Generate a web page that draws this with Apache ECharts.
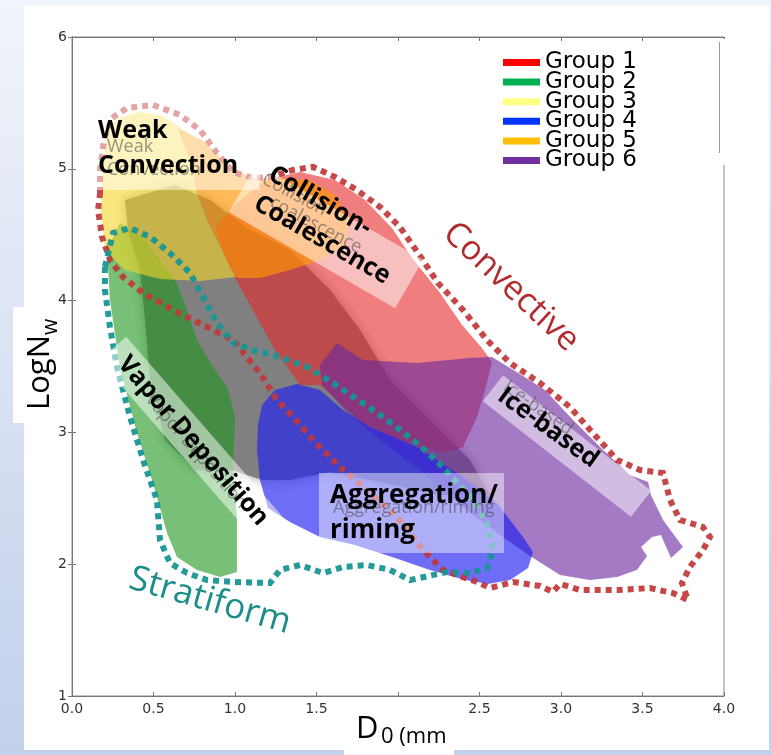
<!DOCTYPE html>
<html><head><meta charset="utf-8">
<script src="https://cdn.jsdelivr.net/npm/echarts@6/dist/echarts.min.js"></script>
<style>html,body{margin:0;padding:0;width:771px;height:755px;overflow:hidden;background:#fff}#c{width:771px;height:755px}</style>
</head><body><div id="c"></div>
<script>
// ---------- data (D0 in mm, LogNw) ----------
const xTickLabels = ['0.0','0.5','1.0','1.5','','2.5','3.0','3.5','4.0'];
const yTickLabels = ['1','2','3','4','5','6'];
const groupNames = ['Group 1','Group 2','Group 3','Group 4','Group 5','Group 6'];
const legendColors = ['#ff0000','#00b050','#ffff80','#0033ff','#ffc000','#7030a0'];

const densityCore = [[0.325,4.763],[0.632,4.877],[0.847,4.763],[1.092,4.536],[1.337,4.384],[1.583,4.080],[1.767,3.777],[1.951,3.398],[2.196,3.094],[2.442,2.791],[2.564,2.525],[2.258,2.525],[1.890,2.624],[1.583,2.700],[1.337,2.639],[1.166,2.639],[0.982,2.715],[0.755,2.715],[0.571,2.942],[0.479,3.398],[0.448,3.853],[0.417,4.232],[0.344,4.536]];
const group1 = [[0.877,4.551],[1.000,4.725],[1.184,4.915],[1.399,4.976],[1.613,4.915],[1.798,4.763],[1.963,4.551],[2.086,4.323],[2.258,4.058],[2.393,3.815],[2.515,3.640],[2.577,3.534],[2.534,3.322],[2.485,3.117],[2.399,2.889],[2.276,2.844],[2.012,2.942],[1.785,3.071],[1.521,3.360],[1.399,3.360],[1.245,3.625],[1.092,3.967],[0.957,4.270]];
const group2 = [[0.294,4.589],[0.215,4.384],[0.233,4.005],[0.294,3.496],[0.399,2.995],[0.497,2.616],[0.583,2.237],[0.644,2.055],[0.767,1.956],[0.908,1.903],[1.012,1.941],[1.012,2.358],[0.988,2.737],[1.000,3.117],[0.951,3.345],[0.865,3.496],[0.767,3.701],[0.706,3.929],[0.644,4.134],[0.540,4.308],[0.436,4.483]];
const group3 = [[0.190,5.029],[0.221,5.310],[0.294,5.393],[0.417,5.431],[0.540,5.408],[0.663,5.317],[0.724,5.067],[0.767,4.816],[0.834,4.596],[0.920,4.384],[1.006,4.179],[0.785,4.149],[0.540,4.164],[0.325,4.232],[0.202,4.384],[0.178,4.687]];
const group4 = [[1.166,3.208],[1.245,3.322],[1.380,3.367],[1.521,3.322],[1.663,3.170],[1.828,3.041],[2.117,2.889],[2.399,2.662],[2.607,2.464],[2.767,2.206],[2.828,2.093],[2.798,1.971],[2.687,1.880],[2.552,1.850],[2.411,1.880],[2.196,1.956],[1.982,2.047],[1.736,2.146],[1.521,2.206],[1.337,2.320],[1.202,2.426],[1.153,2.639],[1.135,2.866],[1.141,3.056]];
const group5 = [[0.650,5.310],[0.816,5.203],[0.939,5.052],[1.092,4.930],[1.276,4.930],[1.460,4.915],[1.613,4.801],[1.706,4.612],[1.675,4.422],[1.521,4.308],[1.337,4.232],[1.153,4.171],[1.012,4.171],[0.920,4.384],[0.834,4.596],[0.767,4.816],[0.724,5.067]];
const group6 = [[1.626,3.678],[1.785,3.549],[2.117,3.527],[2.442,3.564],[2.577,3.572],[2.748,3.443],[2.902,3.322],[3.074,3.094],[3.258,2.866],[3.423,2.677],[3.534,2.624],[3.552,2.525],[3.626,2.335],[3.748,2.131],[3.675,2.047],[3.613,2.222],[3.558,2.206],[3.491,2.131],[3.528,2.062],[3.466,1.956],[3.344,1.903],[3.178,1.880],[2.994,1.918],[2.810,2.062],[2.626,2.222],[2.380,2.449],[2.135,2.715],[1.890,2.942],[1.675,3.170],[1.534,3.360],[1.521,3.511]];
const convectiveOutline = [[0.172,4.816],[0.172,4.991],[0.196,5.218],[0.245,5.385],[0.337,5.461],[0.497,5.484],[0.663,5.408],[0.785,5.294],[0.890,5.120],[0.988,4.976],[1.110,4.930],[1.215,4.938],[1.356,4.991],[1.479,5.014],[1.613,4.938],[1.748,4.839],[1.890,4.710],[2.012,4.558],[2.123,4.361],[2.245,4.134],[2.399,3.929],[2.546,3.701],[2.687,3.527],[2.871,3.375],[3.055,3.193],[3.196,2.995],[3.344,2.791],[3.485,2.715],[3.626,2.692],[3.669,2.487],[3.730,2.335],[3.871,2.282],[3.914,2.206],[3.871,2.108],[3.791,1.979],[3.742,1.857],[3.779,1.728],[3.687,1.781],[3.546,1.819],[3.344,1.804],[3.117,1.804],[2.994,1.850],[2.951,1.789],[2.871,1.835],[2.706,1.865],[2.564,1.819],[2.485,1.865],[2.276,1.956],[2.153,2.108],[1.994,2.358],[1.828,2.540],[1.644,2.737],[1.479,2.942],[1.356,3.117],[1.258,3.246],[1.153,3.451],[0.988,3.701],[0.828,3.800],[0.620,3.929],[0.436,4.058],[0.313,4.179],[0.233,4.308],[0.184,4.483],[0.160,4.687]];
const stratiformOutline = [[0.202,4.255],[0.252,4.513],[0.356,4.551],[0.479,4.483],[0.601,4.361],[0.724,4.209],[0.804,4.027],[0.890,3.830],[0.988,3.678],[1.110,3.625],[1.276,3.572],[1.442,3.496],[1.601,3.375],[1.755,3.246],[1.908,3.117],[2.117,2.920],[2.276,2.737],[2.442,2.510],[2.546,2.313],[2.583,2.108],[2.546,1.971],[2.442,1.933],[2.301,1.941],[2.074,1.880],[1.951,1.956],[1.810,1.994],[1.663,1.979],[1.540,1.933],[1.399,1.994],[1.276,1.956],[1.215,1.857],[0.988,1.865],[0.828,1.880],[0.706,1.933],[0.601,2.009],[0.540,2.184],[0.521,2.487],[0.436,2.791],[0.356,3.117],[0.276,3.496],[0.233,3.800],[0.202,4.080]];

// ---------- chart ----------
const chart = echarts.init(document.getElementById('c'), null, {width:771, height:755});
function area(name, pts, fill, color, extra) {
  return {
    type:'custom', name:name, coordinateSystem:'cartesian2d', data:[[0,1]], silent:true,
    itemStyle:{color:color},
    renderItem:function(params, api){
      return {type:'polygon', shape:{points:pts.map(function(p){return api.coord(p);})},
              style:Object.assign({fill:fill}, extra||{})};
    }
  };
}
function outline(name, pts, stroke) {
  return {
    type:'custom', name:name, coordinateSystem:'cartesian2d', data:[[0,1]], silent:true, z:5,
    renderItem:function(params, api){
      return {type:'polygon', shape:{points:pts.map(function(p){return api.coord(p);})},
              style:{fill:null, stroke:stroke, lineWidth:6, lineDash:[6,5]}};
    }
  };
}
const LBL = 'Open Sans';
function rtext(t, x, y, deg, size, color, weight, align) {
  return {type:'text', x:x, y:y, rotation:-deg*Math.PI/180, z:110,
    style:{text:t, x:0, y:0, align:align||'center', verticalAlign:'middle', fontFamily:LBL, fontSize:size, fontWeight:weight||'normal', fill:color}};
}
function rbox(cx, cy, w, h, deg, fill) {
  return {type:'rect', x:cx, y:cy, rotation:-deg*Math.PI/180, z:100,
    shape:{x:-w/2, y:-h/2, width:w, height:h}, style:{fill:fill||'rgba(255,255,255,0.5)'}};
}
const ghost = 'rgba(70,70,70,0.55)';

const option = {
  animation:false,
  grid:{left:72, top:37, width:652, height:659, show:true, borderColor:'#888', borderWidth:1, backgroundColor:'transparent'},
  xAxis:[{type:'value', min:0, max:4, interval:0.5, position:'bottom',
    axisLine:{show:true, lineStyle:{color:'#777'}}, axisTick:{inside:true, length:4, lineStyle:{color:'#777'}},
    splitLine:{show:false},
    axisLabel:{margin:6, fontFamily:'DejaVu Sans', fontSize:14, color:'#333',
      formatter:function(v){return xTickLabels[Math.round(v/0.5)];}}},
    {type:'value', min:0, max:4, interval:0.5, position:'top',
    axisLine:{show:true, lineStyle:{color:'#777'}}, axisTick:{inside:true, length:4, lineStyle:{color:'#777'}},
    splitLine:{show:false}, axisLabel:{show:false}}],
  yAxis:[{type:'value', min:1, max:6, interval:1, position:'left',
    axisLine:{show:true, lineStyle:{color:'#777'}}, axisTick:{inside:true, length:4, lineStyle:{color:'#777'}},
    splitLine:{show:false},
    axisLabel:{margin:5, fontFamily:'DejaVu Sans', fontSize:14, color:'#333',
      formatter:function(v){return yTickLabels[Math.round(v-1)];}}},
    {type:'value', min:1, max:6, interval:1, position:'right',
    axisLine:{show:true, lineStyle:{color:'#777'}}, axisTick:{inside:true, length:4, lineStyle:{color:'#777'}},
    splitLine:{show:false}, axisLabel:{show:false}}],
  legend:{data:groupNames, orient:'vertical', left:503, top:51, itemWidth:37, itemHeight:7, itemGap:-3.4,
    padding:0, icon:'rect', selectedMode:false, z:120,
    textStyle:{fontFamily:'DejaVu Sans', fontSize:23, color:'#000'}},
  series:[
    area('density', densityCore, 'rgba(128,128,128,1)', '#808080', {shadowBlur:12, shadowColor:'rgba(128,128,128,0.7)'}),
    area(groupNames[0], group1, 'rgba(230,40,40,0.6)', legendColors[0]),
    area(groupNames[5], group6, 'rgba(110,40,160,0.62)', legendColors[5]),
    area(groupNames[3], group4, 'rgba(30,30,240,0.65)', legendColors[3]),
    area(groupNames[1], group2, 'rgba(30,150,30,0.6)', legendColors[1]),
    area(groupNames[2], group3, 'rgba(245,215,40,0.6)', legendColors[2]),
    area(groupNames[4], group5, 'rgba(255,150,0,0.65)', legendColors[4]),
    outline('Convective', convectiveOutline, 'rgba(192,56,58,0.92)'),
    outline('Stratiform', stratiformOutline, 'rgba(24,150,148,0.95)')
  ],
  graphic:[
    {type:'rect', z:-100, shape:{x:0,y:0,width:771,height:755},
      style:{fill:new echarts.graphic.LinearGradient(0,0,0,1,[{offset:0,color:'#f1f4fa'},{offset:1,color:'#c2d0ec'}])}},
    {type:'rect', z:-99, shape:{x:24,y:6,width:745,height:744}, style:{fill:'#fff'}},
    {type:'rect', z:-99, shape:{x:344,y:716,width:110,height:39}, style:{fill:'#fff'}},
    {type:'rect', z:-99, shape:{x:13,y:307,width:12,height:116}, style:{fill:'#fff'}},
    {type:'rect', z:90, shape:{x:700,y:39,width:27,height:126}, style:{fill:'#fff'}},
    {type:'line', z:91, shape:{x1:719.5,y1:42,x2:719.5,y2:153}, style:{stroke:'#999', lineWidth:1}},
    // translucent label boxes
    {type:'rect', z:100, shape:{x:97,y:98,width:163,height:92}, style:{fill:'rgba(255,255,255,0.5)'}},
    rbox(326,236,192,56,30),
    rbox(193,441,245,36,49),
    rbox(567,446,188,33,38),
    {type:'rect', z:100, shape:{x:319,y:473,width:185,height:80}, style:{fill:'rgba(255,255,255,0.45)'}},
    // ghost labels
    rtext('Weak',107,147,0,18,ghost,'normal','left'),
    rtext('Convection',107,170,0,18,ghost,'normal','left'),
    rtext('Collision-',297,196,28,18,ghost),
    rtext('coalescence',316,225,28,18,ghost),
    rtext('Aggregation/riming',333,508,0,18,ghost,'normal','left'),
    rtext('Ice-based',538,408,35,18,ghost),
    rtext('Vapor Deposition',196,451,49,18,ghost),
    // main labels
    rtext('Weak',98,131,0,25,'#000','bold','left'),
    rtext('Convection',98,166,0,25,'#000','bold','left'),
    rtext('Collision-',320,201,30,25,'#000','bold'),
    rtext('Coalescence',322,240,30,25,'#000','bold'),
    rtext('Vapor Deposition',193,441,49,25,'#000','bold'),
    rtext('Aggregation/',330,496,0,26,'#000','bold','left'),
    rtext('riming',330,531,0,26,'#000','bold','left'),
    rtext('Ice-based',548,428,36,25,'#000','bold'),
    rtext('Convective',511,287,43,34,'#b32a2e','normal'),
    rtext('Stratiform',210,601,16,35,'#1a8c8a','normal'),
    // axis titles
    {type:'group', x:40, y:362, rotation:Math.PI/2, z:110, children:[
      {type:'text', z:110, style:{text:'LogN', x:-48, y:0, align:'left', verticalAlign:'middle', fontFamily:LBL, fontSize:31, fill:'#000'}},
      {type:'text', z:110, style:{text:'w', x:27, y:11, align:'left', verticalAlign:'middle', fontFamily:LBL, fontSize:21, fill:'#000'}}
    ]},
    {type:'text', z:110, style:{text:'D', x:356, y:729, align:'left', verticalAlign:'middle', fontFamily:LBL, fontSize:31, fill:'#000'}},
    {type:'text', z:110, style:{text:'0 (mm', x:381, y:737, align:'left', verticalAlign:'middle', fontFamily:LBL, fontSize:22, fill:'#000'}}
  ]
};
chart.setOption(option);
</script>
</body></html>
